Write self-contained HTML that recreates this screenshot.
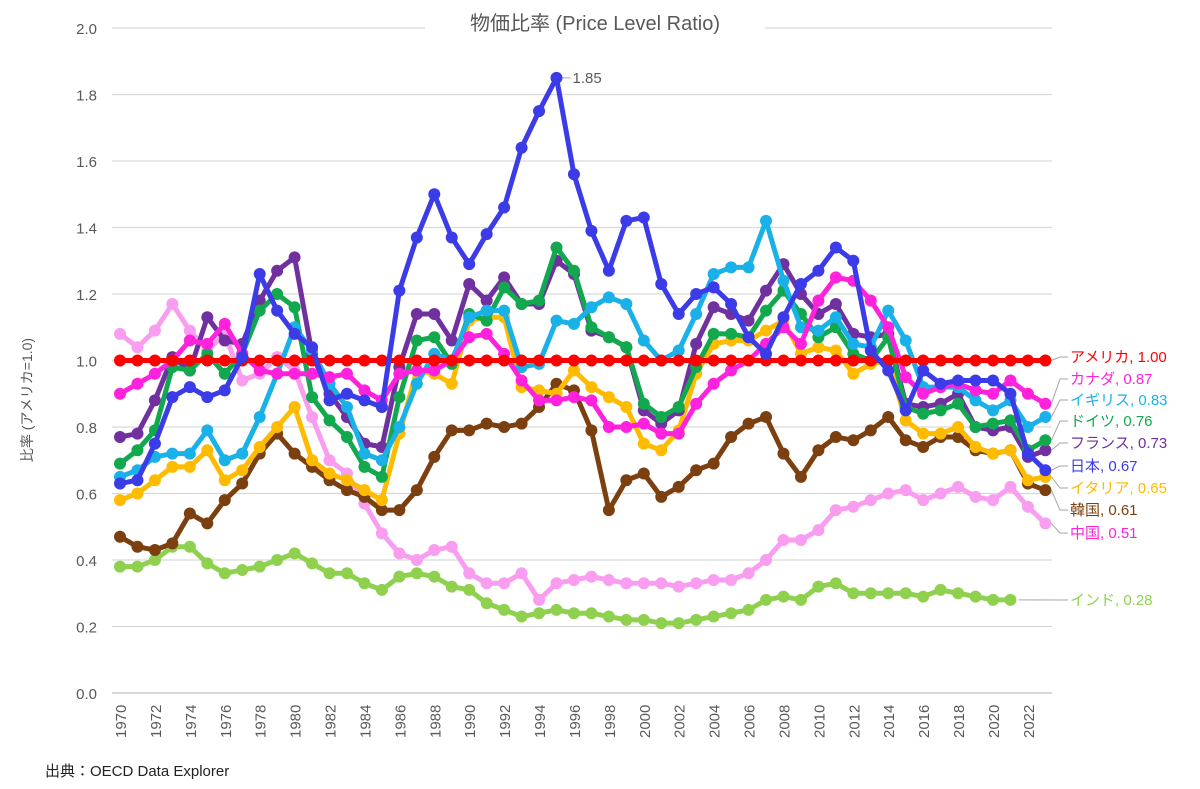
<!DOCTYPE html>
<html><head><meta charset="utf-8"><style>
body{margin:0;background:#fff;}
svg text{font-family:"Liberation Sans","Noto Sans CJK JP",sans-serif;}
</style></head><body>
<svg id="c" width="1200" height="784" xmlns="http://www.w3.org/2000/svg">
<rect width="1200" height="784" fill="#fff"/>
<g id="grid"></g>
<g id="series"></g>
<g id="labels"></g>
<rect x="425" y="10" width="340" height="26" fill="#fff"/>
<text x="595" y="30" font-size="20" fill="#595959" text-anchor="middle">物価比率 (Price Level Ratio)</text>
<text transform="translate(32,400) rotate(-90)" font-size="14" fill="#595959" text-anchor="middle">比率 (アメリカ=1.0)</text>
<text x="45" y="776" font-size="15" fill="#222">出典：OECD Data Explorer</text>
</svg>
<script>
const X=y=>120+(y-1970)*17.46, Y=v=>693-v*332.5;
const ns="http://www.w3.org/2000/svg";
function el(t,a,p,txt){const e=document.createElementNS(ns,t);for(const k in a)e.setAttribute(k,a[k]);if(txt!=null)e.textContent=txt;document.getElementById(p).appendChild(e);return e;}
for(let i=0;i<=10;i++){const v=i*0.2,y=Y(v);
 el('line',{x1:112,x2:1052,y1:y,y2:y,stroke:i==0?'#bfbfbf':'#d9d9d9','stroke-width':1.2},'grid');
 el('text',{x:97,y:y+6,'font-size':15,fill:'#595959','text-anchor':'end'},'grid',v.toFixed(1));}
for(let yr=1970;yr<=2022;yr+=2){el('text',{transform:`translate(${X(yr)+6},${738}) rotate(-90)`,'font-size':15,fill:'#595959'},'grid',yr);}
const S=[
['#8fd14f',[0.38,0.38,0.40,0.44,0.44,0.39,0.36,0.37,0.38,0.40,0.42,0.39,0.36,0.36,0.33,0.31,0.35,0.36,0.35,0.32,0.31,0.27,0.25,0.23,0.24,0.25,0.24,0.24,0.23,0.22,0.22,0.21,0.21,0.22,0.23,0.24,0.25,0.28,0.29,0.28,0.32,0.33,0.30,0.30,0.30,0.30,0.29,0.31,0.30,0.29,0.28,0.28]],
['#f99df0',[1.08,1.04,1.09,1.17,1.09,1.03,1.08,0.94,0.96,1.01,0.97,0.83,0.70,0.66,0.57,0.48,0.42,0.40,0.43,0.44,0.36,0.33,0.33,0.36,0.28,0.33,0.34,0.35,0.34,0.33,0.33,0.33,0.32,0.33,0.34,0.34,0.36,0.40,0.46,0.46,0.49,0.55,0.56,0.58,0.60,0.61,0.58,0.60,0.62,0.59,0.58,0.62,0.56,0.51]],
['#7b3f10',[0.47,0.44,0.43,0.45,0.54,0.51,0.58,0.63,0.72,0.78,0.72,0.68,0.64,0.61,0.59,0.55,0.55,0.61,0.71,0.79,0.79,0.81,0.80,0.81,0.86,0.93,0.91,0.79,0.55,0.64,0.66,0.59,0.62,0.67,0.69,0.77,0.81,0.83,0.72,0.65,0.73,0.77,0.76,0.79,0.83,0.76,0.74,0.77,0.77,0.73,0.72,0.73,0.63,0.61]],
['#ffbb00',[0.58,0.60,0.64,0.68,0.68,0.73,0.64,0.67,0.74,0.80,0.86,0.70,0.66,0.64,0.61,0.58,0.78,0.97,0.96,0.93,1.12,1.13,1.13,0.92,0.91,0.90,0.97,0.92,0.89,0.86,0.75,0.73,0.79,0.96,1.05,1.06,1.06,1.09,1.12,1.02,1.04,1.03,0.96,0.99,1.00,0.82,0.78,0.78,0.80,0.74,0.72,0.73,0.64,0.65]],
['#7030a0',[0.77,0.78,0.88,1.01,0.97,1.13,1.06,1.05,1.18,1.27,1.31,1.02,0.90,0.83,0.75,0.74,0.98,1.14,1.14,1.06,1.23,1.18,1.25,1.17,1.17,1.30,1.26,1.09,1.07,1.04,0.85,0.81,0.85,1.05,1.16,1.14,1.12,1.21,1.29,1.20,1.14,1.17,1.08,1.07,1.08,0.87,0.86,0.87,0.90,0.80,0.79,0.80,0.71,0.73]],
['#12a84e',[0.69,0.73,0.79,0.98,0.97,1.02,0.96,1.02,1.15,1.20,1.16,0.89,0.82,0.77,0.68,0.65,0.89,1.06,1.07,0.99,1.14,1.12,1.22,1.17,1.18,1.34,1.27,1.10,1.07,1.04,0.87,0.83,0.86,0.98,1.08,1.08,1.07,1.15,1.21,1.14,1.07,1.10,1.02,1.00,1.07,0.86,0.84,0.85,0.87,0.80,0.81,0.82,0.73,0.76]],
['#1ab0e8',[0.65,0.67,0.71,0.72,0.72,0.79,0.70,0.72,0.83,0.96,1.10,1.03,0.93,0.86,0.72,0.70,0.80,0.93,1.02,1.00,1.13,1.15,1.15,0.98,0.99,1.12,1.11,1.16,1.19,1.17,1.06,1.00,1.03,1.14,1.26,1.28,1.28,1.42,1.24,1.10,1.09,1.13,1.05,1.04,1.15,1.06,0.92,0.92,0.92,0.88,0.85,0.88,0.80,0.83]],
['#ff22dd',[0.90,0.93,0.96,1.00,1.06,1.05,1.11,1.02,0.97,0.96,0.96,0.96,0.95,0.96,0.91,0.88,0.96,0.97,0.97,1.00,1.07,1.08,1.02,0.94,0.88,0.88,0.89,0.88,0.80,0.80,0.81,0.78,0.78,0.87,0.93,0.97,1.00,1.05,1.10,1.05,1.18,1.25,1.24,1.18,1.10,0.95,0.90,0.92,0.93,0.91,0.90,0.94,0.90,0.87]],
['#ff0000',Array(54).fill(1.0)],
['#3b3be8',[0.63,0.64,0.75,0.89,0.92,0.89,0.91,1.01,1.26,1.15,1.08,1.04,0.88,0.90,0.88,0.86,1.21,1.37,1.50,1.37,1.29,1.38,1.46,1.64,1.75,1.85,1.56,1.39,1.27,1.42,1.43,1.23,1.14,1.20,1.22,1.17,1.07,1.02,1.13,1.23,1.27,1.34,1.30,1.03,0.97,0.85,0.97,0.93,0.94,0.94,0.94,0.90,0.72,0.67]]
];
for(const [c,d] of S){
 el('polyline',{points:d.map((v,i)=>X(1970+i)+','+Y(v)).join(' '),fill:'none',stroke:c,'stroke-width':5,'stroke-linejoin':'round'},'series');
 d.forEach((v,i)=>el('circle',{cx:X(1970+i),cy:Y(v),r:6,fill:c},'series'));
}
const L=[['アメリカ, 1.00','#ff0000',1.00,357],['カナダ, 0.87','#ff22dd',0.87,379],['イギリス, 0.83','#1ab0e8',0.83,400],['ドイツ, 0.76','#12a84e',0.76,421],['フランス, 0.73','#7030a0',0.73,443],['日本, 0.67','#3b3be8',0.67,466],['イタリア, 0.65','#ffbb00',0.65,488],['韓国, 0.61','#7b3f10',0.61,510],['中国, 0.51','#ff22dd',0.51,533],['インド, 0.28','#8fd14f',0.28,600]];
L.forEach(([t,c,v,ly],k)=>{const x0=k==9?X(2021)+8:X(2023)+6;
 el('polyline',{points:`${x0},${Y(v)} ${1060},${ly} ${1068},${ly}`,fill:'none',stroke:'#a6a6a6','stroke-width':1},'labels');
 el('text',{x:1070,y:ly+5,'font-size':15,fill:c},'labels',t);});
el('line',{x1:X(1995)+6,y1:Y(1.85),x2:X(1995)+14,y2:Y(1.85),stroke:'#a6a6a6'},'labels');
el('text',{x:X(1995)+16,y:Y(1.85)+5,'font-size':15,fill:'#595959'},'labels','1.85');
</script>
</body></html>
